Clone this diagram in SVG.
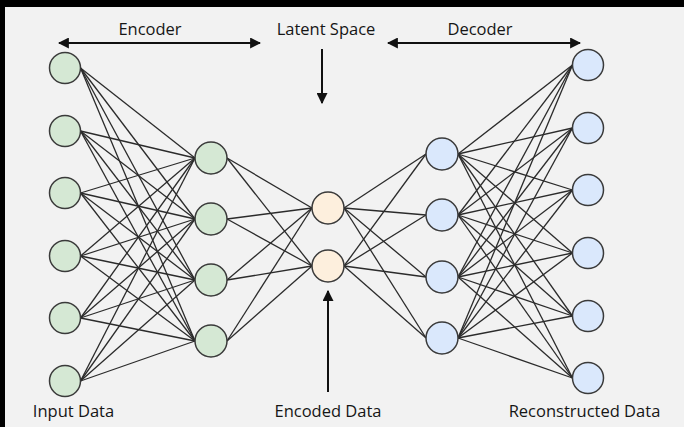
<svg xmlns="http://www.w3.org/2000/svg" width="684" height="427" viewBox="0 0 684 427">
  <style>
    .bg { fill: #f2f2f2; }
    .frame { fill: #000000; }
    .link { stroke: #2b2b2b; stroke-width: 1.3; fill: none; }
    .node { stroke: #3a3a3a; stroke-width: 1.5; }
    .enc { fill: #d5e8d4; }
    .lat { fill: #fdefdd; }
    .dec { fill: #dae8fc; }
    .guide { stroke: #111111; stroke-width: 2; fill: none; }
    .label { font-family: "Open Sans", "Noto Sans", "Liberation Sans", sans-serif; font-size: 16.5px; font-weight: 500; fill: #161616; text-anchor: middle; }
  </style>
  <defs>
    <marker id="head" viewBox="0 0 10 10" refX="9" refY="5" markerWidth="11" markerHeight="11" markerUnits="userSpaceOnUse" orient="auto-start-reverse">
      <path d="M0,0 L10,5 L0,10 Z" fill="#111111"/>
    </marker>
  </defs>

  <!-- canvas -->
  <rect class="frame" x="0" y="0" width="684" height="427"/>
  <rect class="bg" x="5" y="7" width="679" height="420"/>

  <!-- layer-to-layer weights -->
  <g id="connectors">
    <!-- input -> hidden 1 -->
    <line class="link" x1="80.5" y1="68" x2="195" y2="158"/>
    <line class="link" x1="80.5" y1="68" x2="195" y2="219"/>
    <line class="link" x1="80.5" y1="68" x2="195" y2="280"/>
    <line class="link" x1="80.5" y1="68" x2="195" y2="341"/>
    <line class="link" x1="80.5" y1="131" x2="195" y2="158"/>
    <line class="link" x1="80.5" y1="131" x2="195" y2="219"/>
    <line class="link" x1="80.5" y1="131" x2="195" y2="280"/>
    <line class="link" x1="80.5" y1="131" x2="195" y2="341"/>
    <line class="link" x1="80.5" y1="193" x2="195" y2="158"/>
    <line class="link" x1="80.5" y1="193" x2="195" y2="219"/>
    <line class="link" x1="80.5" y1="193" x2="195" y2="280"/>
    <line class="link" x1="80.5" y1="193" x2="195" y2="341"/>
    <line class="link" x1="80.5" y1="256" x2="195" y2="158"/>
    <line class="link" x1="80.5" y1="256" x2="195" y2="219"/>
    <line class="link" x1="80.5" y1="256" x2="195" y2="280"/>
    <line class="link" x1="80.5" y1="256" x2="195" y2="341"/>
    <line class="link" x1="80.5" y1="318" x2="195" y2="158"/>
    <line class="link" x1="80.5" y1="318" x2="195" y2="219"/>
    <line class="link" x1="80.5" y1="318" x2="195" y2="280"/>
    <line class="link" x1="80.5" y1="318" x2="195" y2="341"/>
    <line class="link" x1="80.5" y1="381" x2="195" y2="158"/>
    <line class="link" x1="80.5" y1="381" x2="195" y2="219"/>
    <line class="link" x1="80.5" y1="381" x2="195" y2="280"/>
    <line class="link" x1="80.5" y1="381" x2="195" y2="341"/>
    <!-- hidden 1 -> latent -->
    <line class="link" x1="227" y1="158" x2="312" y2="208"/>
    <line class="link" x1="227" y1="158" x2="312" y2="266"/>
    <line class="link" x1="227" y1="219" x2="312" y2="208"/>
    <line class="link" x1="227" y1="219" x2="312" y2="266"/>
    <line class="link" x1="227" y1="280" x2="312" y2="208"/>
    <line class="link" x1="227" y1="280" x2="312" y2="266"/>
    <line class="link" x1="227" y1="341" x2="312" y2="208"/>
    <line class="link" x1="227" y1="341" x2="312" y2="266"/>
    <!-- latent -> hidden 2 -->
    <line class="link" x1="344" y1="208" x2="426" y2="154"/>
    <line class="link" x1="344" y1="208" x2="426" y2="215"/>
    <line class="link" x1="344" y1="208" x2="426" y2="277"/>
    <line class="link" x1="344" y1="208" x2="426" y2="338"/>
    <line class="link" x1="344" y1="266" x2="426" y2="154"/>
    <line class="link" x1="344" y1="266" x2="426" y2="215"/>
    <line class="link" x1="344" y1="266" x2="426" y2="277"/>
    <line class="link" x1="344" y1="266" x2="426" y2="338"/>
    <!-- hidden 2 -> output -->
    <line class="link" x1="458" y1="154" x2="572.5" y2="65"/>
    <line class="link" x1="458" y1="154" x2="572.5" y2="128"/>
    <line class="link" x1="458" y1="154" x2="572.5" y2="190"/>
    <line class="link" x1="458" y1="154" x2="572.5" y2="253"/>
    <line class="link" x1="458" y1="154" x2="572.5" y2="316"/>
    <line class="link" x1="458" y1="154" x2="572.5" y2="378"/>
    <line class="link" x1="458" y1="215" x2="572.5" y2="65"/>
    <line class="link" x1="458" y1="215" x2="572.5" y2="128"/>
    <line class="link" x1="458" y1="215" x2="572.5" y2="190"/>
    <line class="link" x1="458" y1="215" x2="572.5" y2="253"/>
    <line class="link" x1="458" y1="215" x2="572.5" y2="316"/>
    <line class="link" x1="458" y1="215" x2="572.5" y2="378"/>
    <line class="link" x1="458" y1="277" x2="572.5" y2="65"/>
    <line class="link" x1="458" y1="277" x2="572.5" y2="128"/>
    <line class="link" x1="458" y1="277" x2="572.5" y2="190"/>
    <line class="link" x1="458" y1="277" x2="572.5" y2="253"/>
    <line class="link" x1="458" y1="277" x2="572.5" y2="316"/>
    <line class="link" x1="458" y1="277" x2="572.5" y2="378"/>
    <line class="link" x1="458" y1="338" x2="572.5" y2="65"/>
    <line class="link" x1="458" y1="338" x2="572.5" y2="128"/>
    <line class="link" x1="458" y1="338" x2="572.5" y2="190"/>
    <line class="link" x1="458" y1="338" x2="572.5" y2="253"/>
    <line class="link" x1="458" y1="338" x2="572.5" y2="316"/>
    <line class="link" x1="458" y1="338" x2="572.5" y2="378"/>
  </g>

  <!-- input layer -->
  <g id="input-1"><circle class="node enc" cx="65" cy="68" r="15.5"/></g>
  <g id="input-2"><circle class="node enc" cx="65" cy="131" r="15.5"/></g>
  <g id="input-3"><circle class="node enc" cx="65" cy="193" r="15.5"/></g>
  <g id="input-4"><circle class="node enc" cx="65" cy="256" r="15.5"/></g>
  <g id="input-5"><circle class="node enc" cx="65" cy="318" r="15.5"/></g>
  <g id="input-6"><circle class="node enc" cx="65" cy="381" r="15.5"/></g>

  <!-- encoder hidden layer -->
  <g id="enc-hidden-1"><circle class="node enc" cx="211" cy="158" r="16"/></g>
  <g id="enc-hidden-2"><circle class="node enc" cx="211" cy="219" r="16"/></g>
  <g id="enc-hidden-3"><circle class="node enc" cx="211" cy="280" r="16"/></g>
  <g id="enc-hidden-4"><circle class="node enc" cx="211" cy="341" r="16"/></g>

  <!-- latent code -->
  <g id="latent-1"><circle class="node lat" cx="328" cy="208" r="16"/></g>
  <g id="latent-2"><circle class="node lat" cx="328" cy="266" r="16"/></g>

  <!-- decoder hidden layer -->
  <g id="dec-hidden-1"><circle class="node dec" cx="442" cy="154" r="16"/></g>
  <g id="dec-hidden-2"><circle class="node dec" cx="442" cy="215" r="16"/></g>
  <g id="dec-hidden-3"><circle class="node dec" cx="442" cy="277" r="16"/></g>
  <g id="dec-hidden-4"><circle class="node dec" cx="442" cy="338" r="16"/></g>

  <!-- output layer -->
  <g id="output-1"><circle class="node dec" cx="588" cy="65" r="15.5"/></g>
  <g id="output-2"><circle class="node dec" cx="588" cy="128" r="15.5"/></g>
  <g id="output-3"><circle class="node dec" cx="588" cy="190" r="15.5"/></g>
  <g id="output-4"><circle class="node dec" cx="588" cy="253" r="15.5"/></g>
  <g id="output-5"><circle class="node dec" cx="588" cy="316" r="15.5"/></g>
  <g id="output-6"><circle class="node dec" cx="588" cy="378" r="15.5"/></g>

  <!-- span arrows and pointers -->
  <g id="annotations">
    <line class="guide" x1="59" y1="43" x2="260" y2="43" marker-start="url(#head)" marker-end="url(#head)"/>
    <line class="guide" x1="388" y1="43" x2="580" y2="43" marker-start="url(#head)" marker-end="url(#head)"/>
    <line class="guide" x1="322" y1="49" x2="322" y2="103" marker-end="url(#head)"/>
    <line class="guide" x1="328" y1="392" x2="328" y2="291" marker-end="url(#head)"/>
  </g>

  <g id="labels">
    <text class="label" x="150" y="35">Encoder</text>
    <text class="label" x="326" y="35">Latent Space</text>
    <text class="label" x="480" y="35">Decoder</text>
    <text class="label" x="73.5" y="417">Input Data</text>
    <text class="label" x="328" y="417">Encoded Data</text>
    <text class="label" x="584.5" y="417">Reconstructed Data</text>
  </g>
</svg>
